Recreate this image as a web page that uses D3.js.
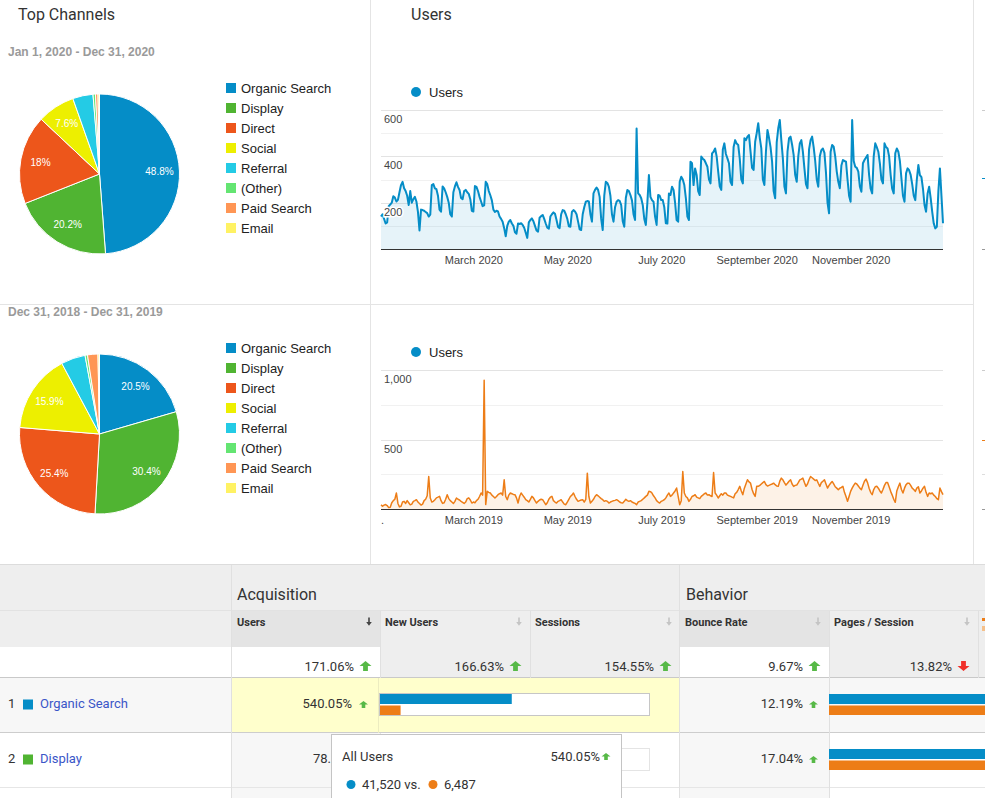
<!DOCTYPE html>
<html><head><meta charset="utf-8">
<script src="https://cdn.jsdelivr.net/npm/d3@7/dist/d3.min.js"></script>
<style>
body{margin:0;background:#fff;}
svg{display:block;}
</style></head><body>
<svg id="c" width="985" height="798"></svg>
<script>
// ---------------- DATA ----------------
const channels = ["Organic Search","Display","Direct","Social","Referral","(Other)","Paid Search","Email"];
const channelColors = ["#058dc7","#50b432","#ed561b","#edef00","#24cbe5","#64e572","#ff9655","#fff263"];
const share2020 = [48.8,20.2,18,7.6,4.1,0.5,0.5,0.3];
const share2019 = [20.5,30.4,25.4,15.9,4.9,0.5,2.1,0.3];
const range2020 = "Jan 1, 2020 - Dec 31, 2020";
const range2019 = "Dec 31, 2018 - Dec 31, 2019";

// daily users, 2020 (Jan 1 = Wed; rows run Mon..Sun)
const users2020Weeks = [
 [140,150,130,110,115],
 [185,192,200,228,222,205,212],
 [245,276,290,262,250,230,190],
 [250,200,215,225,205,160,80],
 [170,168,165,160,155,140,148],
 [276,280,262,258,230,170,161],
 [270,262,245,225,200,150,140],
 [245,270,288,268,255,220,215],
 [250,255,245,238,215,165,162],
 [272,268,250,225,205,185,188],
 [290,280,250,232,210,170,160],
 [165,162,140,130,118,90,55],
 [100,118,125,110,100,72,66],
 [110,108,111,104,92,70,48],
 [115,125,132,120,100,80,75],
 [135,142,147,130,110,92,88],
 [140,150,158,152,125,95,90],
 [150,168,165,150,130,98,96],
 [160,168,162,150,118,85,82],
 [150,180,204,207,205,150,118],
 [240,255,265,255,225,130,82],
 [230,290,285,269,230,150,118],
 [180,204,211,208,190,120,96],
 [220,255,250,233,210,150,125],
 [520,240,233,219,190,130,104],
 [200,319,225,211,204,140,104],
 [233,230,211,211,180,111,110],
 [240,233,269,255,200,125,118],
 [290,312,300,276,220,140,125],
 [377,370,276,348,320,250,233],
 [399,390,384,370,355,300,283],
 [413,420,434,400,334,270,255],
 [430,456,410,391,370,290,276],
 [440,470,455,449,390,300,283],
 [478,470,485,492,420,350,341],
 [463,500,543,480,434,300,276],
 [420,514,480,440,377,250,219],
 [460,521,557,470,391,270,240],
 [420,478,485,450,406,320,290],
 [400,456,470,420,348,280,262],
 [430,470,485,440,380,300,269],
 [400,427,434,415,330,200,154],
 [420,449,442,400,334,290,262],
 [360,384,380,377,300,230,204],
 [557,380,355,350,334,270,247],
 [370,384,395,406,320,260,240],
 [400,456,440,420,370,300,283],
 [456,440,434,400,320,260,240],
 [413,434,420,380,305,230,204],
 [327,348,340,320,280,230,211],
 [300,363,319,310,260,190,161],
 [240,269,220,160,110,89,96],
 [250,348,230,111]
];
// daily users, Dec 31 2018 - Dec 31 2019 (rows Mon..Sun)
const users2019Weeks = [
 [30,20,28,32,25,10,12],
 [45,60,70,115,40,15,20],
 [50,55,40,60,45,30,35],
 [55,60,67,50,40,28,35],
 [60,70,95,234,79,50,55],
 [67,80,85,91,60,40,45],
 [70,103,75,60,50,40,55],
 [79,70,65,55,48,40,50],
 [75,80,65,43,50,45,60],
 [70,90,115,100,927,32,127],
 [120,115,100,90,79,90,103],
 [110,115,100,210,90,67,100],
 [115,110,105,103,80,43,90],
 [115,100,85,67,60,50,70],
 [91,80,60,43,55,65,70],
 [67,50,31,45,70,85,91],
 [60,50,43,55,60,67,50],
 [35,31,50,70,90,100,115],
 [90,70,55,60,65,67,50],
 [70,258,90,43,55,70,90],
 [103,95,85,75,67,55,60],
 [55,43,50,55,60,62,67],
 [60,50,45,43,55,70,60],
 [55,60,50,45,40,31,50],
 [55,60,70,80,91,100,127],
 [125,115,95,80,60,50,43],
 [55,60,67,80,100,115,91],
 [100,115,130,151,90,31,60],
 [270,115,90,80,55,70,90],
 [95,103,85,80,75,91,100],
 [110,115,100,103,95,90,263],
 [115,100,79,95,110,100,115],
 [115,100,95,91,85,80,110],
 [120,140,163,130,103,150,180],
 [210,195,186,140,110,91,163],
 [163,170,180,190,198,175,165],
 [170,175,180,186,175,165,163],
 [200,222,210,190,172,185,200],
 [210,180,163,170,172,190,210],
 [215,222,190,163,180,210,234],
 [225,215,205,210,185,163,190],
 [200,210,180,151,170,185,198],
 [180,160,150,139,150,155,163],
 [120,90,55,90,127,150,170],
 [186,180,165,150,139,170,200],
 [215,190,150,120,103,140,160],
 [163,150,130,115,140,170,190],
 [191,160,127,100,70,48,130],
 [160,186,140,115,150,175,186],
 [186,170,150,140,127,150,160],
 [115,130,150,163,120,91,115],
 [110,115,100,90,75,67,151],
 [125,103]
];
const yTicks2020 = {major:[200,400,600], minor:[100,300,500], max:600};
const yTicks2019 = {major:[500,1000], minor:[250,750], max:1000};
const monthTicks = ["March","May","July","September","November"];

const groupHeaders = ["Acquisition","Behavior"];
const columnHeaders = ["Users","New Users","Sessions","Bounce Rate","Pages / Session"];
const sortedColumns = [true,false,false,true,false];
const totalChanges = ["171.06%","166.63%","154.55%","9.67%","13.82%"];
const totalUp = [true,true,true,true,false];
const rowChannels = ["Organic Search","Display"];
const rowUsersChange = ["540.05%","78.1"];
const rowBounceChange = ["12.19%","17.04%"];
const tooltipTitle = "All Users";
const tooltipUsers = [41520, 6487];
const totalUsers2020 = 85082;

// ---------------- DRAW ----------------
const ARIAL = "Arial, 'Liberation Sans', sans-serif";
const ROBOTO = "Roboto, Arial, sans-serif";
const svg = d3.select("#c");
const flat = w => w.reduce((a,b)=>a.concat(b),[]);
const users2020 = flat(users2020Weeks);
const users2019 = flat(users2019Weeks);

function txt(g, x, y, s, o={}) {
  const t = g.append("text").attr("x",x).attr("y",y).text(s)
    .attr("font-family", o.f||ARIAL).attr("font-size", o.s||13)
    .attr("fill", o.c||"#333");
  if (o.w) t.attr("font-weight", o.w);
  if (o.a) t.attr("text-anchor", o.a);
  return t;
}
function hline(x1,x2,y,c){ svg.append("line").attr("x1",x1).attr("x2",x2).attr("y1",y).attr("y2",y).attr("stroke",c).attr("stroke-width",1); }
function vline(x,y1,y2,c){ svg.append("line").attr("x1",x).attr("x2",x).attr("y1",y1).attr("y2",y2).attr("stroke",c).attr("stroke-width",1); }
function rect(x,y,w,h,c){ return svg.append("rect").attr("x",x).attr("y",y).attr("width",w).attr("height",h).attr("fill",c); }

// dividers of the top panel
vline(370.5,0,565,"#e4e4e4");
vline(973.5,0,565,"#e4e4e4");
hline(0,973,304.5,"#e4e4e4");

txt(svg,18,20,"Top Channels",{f:ROBOTO,s:16,c:"#333"});
txt(svg,411,20,"Users",{f:ROBOTO,s:16,c:"#333"});

// ---- pies ----
function drawPie(values, cx, cy, dateY, dateText) {
  txt(svg,8,dateY,dateText,{s:12,w:"bold",c:"#9a9a9a"});
  const g = svg.append("g").attr("transform",`translate(${cx},${cy})`);
  const arcs = d3.pie().sort(null).value(d=>d)(values);
  const arc = d3.arc().innerRadius(0).outerRadius(80);
  const lab = d3.arc().innerRadius(60).outerRadius(60);
  g.selectAll("path").data(arcs).join("path")
    .attr("d",arc).attr("fill",(d,i)=>channelColors[i])
    .attr("stroke","#fff").attr("stroke-width",1);
  g.selectAll("text").data(arcs.filter(d=>d.data>6)).join("text")
    .attr("transform",d=>{const c=lab.centroid(d);return `translate(${c[0]},${c[1]+3.5})`;})
    .attr("text-anchor","middle").attr("font-family",ARIAL).attr("font-size",10)
    .attr("fill","#fff").text(d=>d.data+"%");
  // legend
  const ly = cy - 86;
  channels.forEach((name,i)=>{
    rect(226, ly+20*i-5, 10, 10, channelColors[i]);
    txt(svg,241, ly+20*i+5, name,{s:13,c:"#222"});
  });
}
drawPie(share2020, 99.5, 174, 55.5, range2020);
drawPie(share2019, 99.5, 434, 316, range2019);

// ---- line charts ----
function drawLine(values, start, ticksCfg, top, base, color, lw, legendY, year, dotLabel) {
  const g = svg.append("g");
  const end = d3.timeDay.offset(start, values.length-1);
  const x = d3.scaleTime().domain([start,end]).range([381,943]);
  const y = d3.scaleLinear().domain([0,ticksCfg.max]).range([base,top]);
  const pts = values.map((v,i)=>({d:d3.timeDay.offset(start,i), v}));
  // legend
  g.append("circle").attr("cx",416).attr("cy",legendY).attr("r",5).attr("fill","#058dc7");
  txt(g,429,legendY+5,"Users",{s:13,c:"#222"});
  // grid
  g.selectAll(".mi").data(ticksCfg.minor).join("line")
    .attr("x1",381).attr("x2",943).attr("y1",d=>Math.round(y(d))+0.5).attr("y2",d=>Math.round(y(d))+0.5)
    .attr("stroke","#f1f1f1");
  g.selectAll(".ma").data(ticksCfg.major).join("line")
    .attr("x1",381).attr("x2",943).attr("y1",d=>Math.round(y(d))+0.5).attr("y2",d=>Math.round(y(d))+0.5)
    .attr("stroke","#e3e3e3");
  g.append("path").datum(pts)
    .attr("d",d3.area().x(p=>x(p.d)).y0(y(0)).y1(p=>y(p.v)))
    .attr("fill",color).attr("fill-opacity",0.1);
  g.append("path").datum(pts)
    .attr("d",d3.line().x(p=>x(p.d)).y(p=>y(p.v)))
    .attr("fill","none").attr("stroke",color).attr("stroke-width",lw).attr("stroke-linejoin","round");
  g.append("line").attr("x1",381).attr("x2",943).attr("y1",y(0)+0.5).attr("y2",y(0)+0.5)
    .attr("stroke","#333").attr("stroke-width",1.2);
  // y labels
  g.selectAll(".yl").data(ticksCfg.major).join("text")
    .attr("x",384).attr("y",d=>y(d)+13).attr("font-family",ARIAL).attr("font-size",11)
    .attr("fill","#444").attr("stroke","#fff").attr("stroke-width",3).attr("paint-order","stroke")
    .text(d=>d3.format(",")(d));
  // x axis
  const tickDates = monthTicks.map(m=>d3.timeParse("%B %Y")(m+" "+year));
  const ax = g.append("g").attr("transform",`translate(0,${base})`)
    .call(d3.axisBottom(x).tickValues(tickDates).tickFormat(d3.timeFormat("%B %Y")).tickSize(0).tickPadding(5));
  ax.select(".domain").remove();
  ax.selectAll("text").attr("font-family",ARIAL).attr("font-size",11).attr("fill","#444")
    .attr("dy",0).attr("y",15);
  if (dotLabel) txt(g,381,base+15,".",{s:11,c:"#444"});
}
drawLine(users2020, new Date(2020,0,1), yTicks2020, 110, 249, "#058dc7", 2, 92, 2020, false);
drawLine(users2019, new Date(2018,11,31), yTicks2019, 370, 509, "#ed7d17", 1.5, 352, 2019, true);

// right-edge fragments of the next panel
[[110,"#ccc"],[178,"#058dc7"],[249,"#999"],[370,"#ccc"],[440,"#ed7d17"],[474,"#ddd"],[509,"#999"]]
  .forEach(([yy,c])=>hline(982,985,yy+0.5,c));

// ---------------- TABLE ----------------
const colX = [232,380,530,680,829,978];
rect(0,565,985,82,"#eeeeee");
sortedColumns.forEach((s,i)=>{ if(s) rect(colX[i],611,colX[i+1]-colX[i],36,"#e4e4e4"); });
// totals row
rect(0,647,985,31,"#eeeeee");
rect(0,647,380,31,"#ffffff");
rect(680,647,149,31,"#ffffff");
// row 1
rect(0,678,985,55,"#f7f7f7");
rect(232,678,448,55,"#ffffcc");
// row 2 & 3
rect(0,733,985,65,"#ffffff");
rect(232,733,148,65,"#f7f7f7");
rect(680,733,149,65,"#f7f7f7");

hline(0,985,564.5,"#dcdcdc");
hline(0,985,610.5,"#e2e2e2");
hline(0,985,677.5,"#c9c9c9");
hline(0,985,732.5,"#cdcdcd");
hline(0,985,787.5,"#e6e6e6");
vline(231.5,565,798,"#e0e0e0");
vline(679.5,565,798,"#e0e0e0");
vline(380.5,611,678,"#e0e0e0");
vline(530.5,611,678,"#e0e0e0");
vline(829.5,611,798,"#e0e0e0");
vline(978.5,611,678,"#e0e0e0");
vline(378.5,678,733,"#ececc0");
vline(380.5,733,798,"#e6e6e6");

// group headers
txt(svg,237,599.5,groupHeaders[0],{f:ROBOTO,s:16,c:"#333"});
txt(svg,686,599.5,groupHeaders[1],{f:ROBOTO,s:16,c:"#333"});

function sortArrow(cx, cy, c){
  svg.append("path").attr("d",`M${cx-0.8},${cy-4.5} h1.6 v4.5 h2 l-2.8,3.8 l-2.8,-3.8 h2 z`).attr("fill",c);
}
function blockArrow(cx, top, w, h, up, c){
  const hw=w/2, sh=h*0.5, st=w*0.2;
  let d;
  if (up) d=`M${cx},${top} L${cx+hw},${top+sh} L${cx+st},${top+sh} L${cx+st},${top+h} L${cx-st},${top+h} L${cx-st},${top+sh} L${cx-hw},${top+sh} Z`;
  else d=`M${cx},${top+h} L${cx+hw},${top+h-sh} L${cx+st},${top+h-sh} L${cx+st},${top} L${cx-st},${top} L${cx-st},${top+h-sh} L${cx-hw},${top+h-sh} Z`;
  svg.append("path").attr("d",d).attr("fill",c);
}
columnHeaders.forEach((h,i)=>{
  txt(svg,colX[i]+5,625.5,h,{f:ROBOTO,s:11,w:"bold",c:"#333"});
  sortArrow(colX[i+1]-11, 622, i===0?"#444":"#c4c4c4");
  txt(svg,colX[i+1]-26,670.5,totalChanges[i],{f:ROBOTO,s:13,c:"#333",a:"end"});
  blockArrow(colX[i+1]-14.5, 661, 12, 10, totalUp[i], totalUp[i]?"#57b947":"#f0302a");
});

// clip for the row-2 value that the tooltip covers
svg.append("clipPath").attr("id","tipclip").append("rect").attr("x",232).attr("y",733).attr("width",99).attr("height",55);

// rows
const rowBase = [707.5, 762.5];
rowChannels.forEach((name,i)=>{
  const b = rowBase[i];
  txt(svg,8,b,String(i+1),{f:ROBOTO,s:13,c:"#333"});
  rect(23,b-8,10,10,channelColors[channels.indexOf(name)]);
  txt(svg,40,b,name,{f:ROBOTO,s:13,c:"#3a56c8"});
  if (i===0) {
    txt(svg,352,b,rowUsersChange[i],{f:ROBOTO,s:13,c:"#333",a:"end"});
    blockArrow(363.5,b-6.5,9,7,true,"#57b947");
  } else {
    txt(svg,313,b,rowUsersChange[i],{f:ROBOTO,s:13,c:"#333"}).attr("clip-path","url(#tipclip)");
  }
  txt(svg,803,b,rowBounceChange[i],{f:ROBOTO,s:13,c:"#333",a:"end"});
  blockArrow(813.5,b-6.5,9,7,true,"#57b947");
  // pages / session comparison bars
  rect(829,b-13.5,160,10,"#058dc7");
  rect(829,b-2,160,9.5,"#ed7d17");
});

// users comparison bar (row 1)
const barX = d3.scaleLinear().domain([0,totalUsers2020]).range([0,270]);
svg.append("rect").attr("x",379.5).attr("y",693.5).attr("width",270).attr("height",22)
  .attr("fill","#fff").attr("stroke","#c6c6c6");
svg.append("rect").attr("x",380).attr("y",694).attr("width",barX(tooltipUsers[0])).attr("height",10).attr("fill","#058dc7");
svg.append("rect").attr("x",380).attr("y",705.5).attr("width",barX(tooltipUsers[1])).attr("height",9.5).attr("fill","#ed7d17");
// row 2 bar frame
svg.append("rect").attr("x",379.5).attr("y",748.5).attr("width",270).attr("height",22)
  .attr("fill","#fff").attr("stroke","#e4e4e4");

// tooltip
svg.append("rect").attr("x",331.5).attr("y",734.5).attr("width",290).attr("height",80)
  .attr("fill","#fff").attr("stroke","#c4c4c4");
txt(svg,342,761,tooltipTitle,{f:ROBOTO,s:13,c:"#333"});
txt(svg,600,761,rowUsersChange[0],{f:ROBOTO,s:13,c:"#333",a:"end"});
blockArrow(606,753,9,7,true,"#57b947");
svg.append("circle").attr("cx",351).attr("cy",784.5).attr("r",4.5).attr("fill","#058dc7");
txt(svg,362,789,d3.format(",")(tooltipUsers[0])+" vs.",{f:ROBOTO,s:13,c:"#333"});
svg.append("circle").attr("cx",433).attr("cy",784.5).attr("r",4.5).attr("fill","#ed7d17");
txt(svg,444,789,d3.format(",")(tooltipUsers[1]),{f:ROBOTO,s:13,c:"#333"});

// clipped fragment at right edge of header
rect(982,618,3,3,"#ed7d17");
rect(982,626,3,5,"#f5c08a");
</script>
</body></html>
